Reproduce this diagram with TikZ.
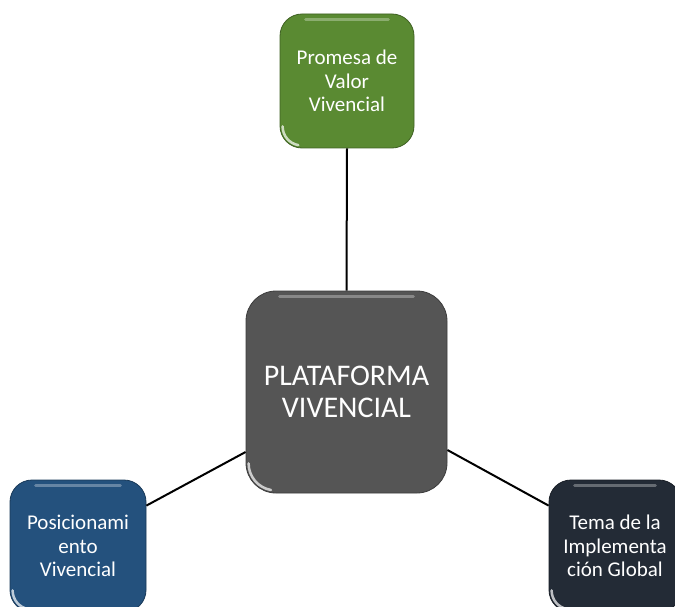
\documentclass[tikz,border=0pt]{standalone}
\usepackage{fontspec}
\setmainfont{Carlito}
\usetikzlibrary{calc}
\definecolor{greenbox}{HTML}{5A8A32}
\definecolor{greybox}{HTML}{555555}
\definecolor{bluebox}{HTML}{24517D}
\definecolor{navybox}{HTML}{232B36}
\tikzset{
  x=1pt, y=-1pt,
  tile/.style={rounded corners=22pt, text=white, align=center, inner sep=0pt,
    draw=#1!70!black, line width=0.8pt, fill=#1},
  link/.style={draw=black, line width=2pt},
  small/.style={font=\fontsize{21}{23.5}\selectfont},
  big/.style={font=\fontsize{30}{32}\selectfont},
}
% glossy rim along the top edge and the lower left corner of a tile
\newcommand{\gloss}[2]{%
  \draw[white, opacity=0.3, line width=3pt, line cap=round]
    ($(#1.north west)+(#2+4,6)$) -- ($(#1.north east)+(-#2-4,6)$);
  \draw[white, opacity=0.7, line width=2.5pt, line cap=round]
    ($(#1.south west)+(3,-#2)$) arc[start angle=180, end angle=100, radius=#2-3];
}
\begin{document}
\begin{tikzpicture}
\useasboundingbox (0,0) rectangle (675,607);
\clip (0,0) rectangle (675,607);
\fill[white] (0,0) rectangle (675,607);

% tiles
\node[tile=greenbox, small, minimum width=134pt, minimum height=134pt] (promesa) at (347,81)
  {Promesa de\\Valor\\Vivencial};
\node[tile=greybox, big, rounded corners=30pt, minimum width=201pt, minimum height=202pt] (plataforma) at (346.5,392)
  {PLATAFORMA\\VIVENCIAL};
\node[tile=bluebox, small, minimum width=136pt, minimum height=132pt] (posicion) at (78,546)
  {Posicionami\\ento\\Vivencial};
\node[tile=navybox, small, minimum width=132pt, minimum height=132pt] (tema) at (615,546)
  {Tema de la\\Implementa\\ción Global};

% connectors
\coordinate (cleft) at (246,452);
\coordinate (cright) at (447,450);
\coordinate (pe) at ($(posicion.north east)+(0,26)$);
\coordinate (te) at ($(tema.north west)+(0,26)$);
\draw[link] (promesa.south) -- (plataforma.north);
\draw[link] (plataforma.west |- cleft) -- (pe);
\draw[link] (plataforma.east |- cright) -- (te);

\gloss{promesa}{22}
\gloss{plataforma}{30}
\gloss{posicion}{22}
\gloss{tema}{22}
\end{tikzpicture}
\end{document}
